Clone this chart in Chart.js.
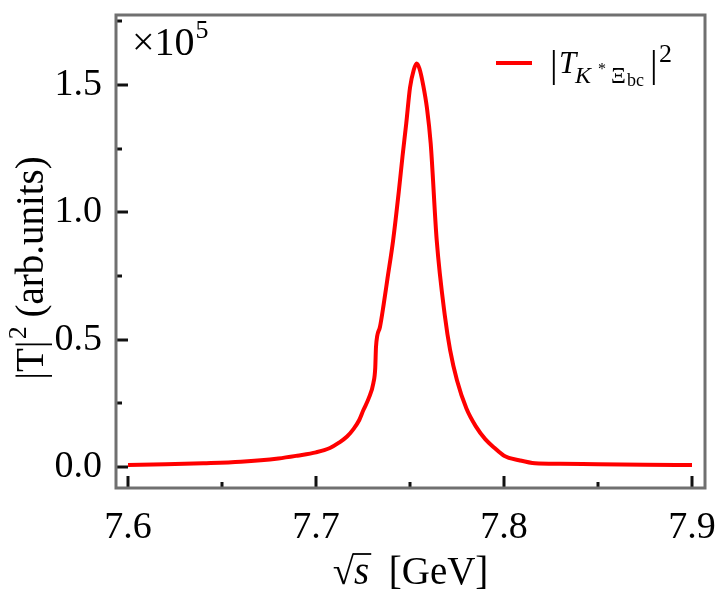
<!DOCTYPE html>
<html>
<head>
<meta charset="utf-8">
<script src="https://cdn.jsdelivr.net/npm/chart.js@4/dist/chart.umd.min.js"></script>
<style>
  html, body { margin: 0; padding: 0; background: #fff; }
  #wrap { width: 718px; height: 598px; }
</style>
</head>
<body>
<div id="wrap"><canvas id="c" width="718" height="598"></canvas></div>
<script>
// sqrt(s) in GeV, |T|^2 in units of 1e5
const sqrtS = [7.600, 7.620, 7.640, 7.660, 7.680, 7.690, 7.700, 7.7074, 7.712, 7.7165, 7.720, 7.723,
  7.7252, 7.728, 7.7305, 7.7315, 7.7319, 7.734, 7.736, 7.738, 7.741, 7.744, 7.746, 7.748, 7.750,
  7.752, 7.7535, 7.755, 7.757, 7.759, 7.761, 7.7642, 7.7686, 7.7713, 7.775, 7.780, 7.785, 7.790,
  7.795, 7.800, 7.808, 7.8165, 7.830, 7.850, 7.875, 7.900];
const tSquared = [0.008, 0.011, 0.015, 0.021, 0.034, 0.045, 0.058, 0.075, 0.095, 0.12, 0.15, 0.185,
  0.224, 0.27, 0.33, 0.39, 0.472, 0.55, 0.64, 0.74, 0.89, 1.08, 1.22, 1.35, 1.49,
  1.56, 1.585, 1.565, 1.50, 1.41, 1.27, 0.89, 0.59, 0.46, 0.34, 0.23, 0.16, 0.11,
  0.075, 0.045, 0.027, 0.015, 0.013, 0.011, 0.009, 0.008];

const xTicks = [7.6, 7.7, 7.8, 7.9];
const yTicks = [0.0, 0.5, 1.0, 1.5];

const SERIF = '"Liberation Serif", "DejaVu Serif", serif';
const FRAME = '#707070';

// рамка, внутренние тики, подписи осей, множитель и легенда
const decor = {
  id: 'decor',
  afterDraw(chart) {
    const { ctx, chartArea: a, scales: { x, y } } = chart;
    ctx.save();

    // ticks (inward)
    ctx.strokeStyle = '#111';
    ctx.lineWidth = 3;
    ctx.lineCap = 'butt';
    const xStep = 0.05, yStep = 0.25;
    for (let i = 0; i <= 6; i++) {
      const v = 7.6 + i * xStep;
      const px = Math.round(x.getPixelForValue(v));
      const len = i % 2 === 0 ? 12 : 6;
      ctx.beginPath(); ctx.moveTo(px, a.bottom); ctx.lineTo(px, a.bottom - len); ctx.stroke();
    }
    for (let i = 0; i <= 7; i++) {
      const v = i * yStep;
      const py = Math.round(y.getPixelForValue(v));
      const len = i % 2 === 0 ? 12 : 6;
      ctx.beginPath(); ctx.moveTo(a.left, py); ctx.lineTo(a.left + len, py); ctx.stroke();
    }

    // frame
    ctx.strokeStyle = FRAME;
    ctx.lineWidth = 3;
    ctx.strokeRect(a.left, a.top, a.right - a.left, a.bottom - a.top);

    ctx.fillStyle = '#000';
    ctx.textBaseline = 'alphabetic';

    // ×10^5
    ctx.textAlign = 'left';
    ctx.font = '40px ' + SERIF;
    ctx.fillText('×10', 132, 55);
    const w10 = ctx.measureText('×10').width;
    ctx.font = '26px ' + SERIF;
    ctx.fillText('5', 132 + w10 + 1, 38);

    // x title: √s [GeV]
    ctx.font = '39px ' + SERIF;
    const rad = '√';
    const radW = ctx.measureText(rad).width;
    ctx.font = 'italic 39px ' + SERIF;
    const sW = ctx.measureText('s').width;
    ctx.font = '39px ' + SERIF;
    const gev = '  [GeV]';
    const gW = ctx.measureText(gev).width;
    let tx = (a.left + a.right) / 2 - (radW + sW + gW) / 2;
    const ty = 584;
    ctx.fillText(rad, tx, ty);
    ctx.font = 'italic 39px ' + SERIF;
    ctx.fillText('s', tx + radW, ty);
    ctx.lineWidth = 1.8;
    ctx.strokeStyle = '#000';
    ctx.beginPath(); ctx.moveTo(tx + radW - 1, ty - 30); ctx.lineTo(tx + radW + sW + 2, ty - 30); ctx.stroke();
    ctx.font = '39px ' + SERIF;
    ctx.fillText(gev, tx + radW + sW, ty);

    // y title: |T|^2 (arb.units)
    ctx.save();
    ctx.translate(43, 268);
    ctx.rotate(-Math.PI / 2);
    ctx.font = '39px ' + SERIF;
    const p1 = '|T|', p3 = ' (arb.units)';
    const w1 = ctx.measureText(p1).width;
    const w3 = ctx.measureText(p3).width;
    ctx.font = '26px ' + SERIF;
    const w2 = ctx.measureText('2').width;
    let sx = -(w1 + w2 + w3) / 2;
    ctx.font = '39px ' + SERIF;
    ctx.fillText(p1, sx, 0);
    ctx.font = '26px ' + SERIF;
    ctx.fillText('2', sx + w1 + 1, -17);
    ctx.font = '39px ' + SERIF;
    ctx.fillText(p3, sx + w1 + w2, 0);
    ctx.restore();

    // legend
    ctx.strokeStyle = '#ff0000';
    ctx.lineWidth = 4;
    ctx.beginPath(); ctx.moveTo(496, 63); ctx.lineTo(532, 63); ctx.stroke();
    ctx.font = '38px ' + SERIF;
    ctx.fillText('|', 550, 77);
    ctx.font = 'italic 31px ' + SERIF;
    ctx.fillText('T', 559, 73);
    ctx.font = 'italic 24px ' + SERIF;
    ctx.fillText('K', 575, 83);
    ctx.font = '16px ' + SERIF;
    ctx.fillText('*', 598, 74);
    ctx.font = '23px ' + SERIF;
    ctx.fillText('Ξ', 611, 83);
    ctx.font = '18px ' + SERIF;
    ctx.fillText('bc', 627, 86);
    ctx.font = '38px ' + SERIF;
    ctx.fillText('|', 650, 77);
    ctx.font = '26px ' + SERIF;
    ctx.fillText('2', 659, 62);

    ctx.restore();
  }
};

new Chart(document.getElementById('c'), {
  type: 'line',
  data: {
    datasets: [{
      label: '|T|^2',
      data: sqrtS.map((v, i) => ({ x: v, y: tSquared[i] })),
      borderColor: '#ff0000',
      borderWidth: 4,
      pointRadius: 0,
      fill: false,
      cubicInterpolationMode: 'monotone',
    }],
  },
  options: {
    responsive: false,
    animation: false,
    devicePixelRatio: 1,
    layout: { padding: { top: 15, right: 13, left: 0, bottom: 0 } },
    plugins: { legend: { display: false }, tooltip: { enabled: false } },
    scales: {
      x: {
        type: 'linear',
        min: 7.5936,
        max: 7.9069,
        afterFit: s => { s.height = 110; s.paddingLeft = 0; s.paddingRight = 0; },
        afterBuildTicks: s => { s.ticks = xTicks.map(v => ({ value: v })); },
        grid: { display: false },
        border: { display: false },
        ticks: {
          color: '#000',
          padding: 9,
          maxRotation: 0,
          font: { family: SERIF, size: 38 },
          callback: v => v.toFixed(1),
        },
      },
      y: {
        type: 'linear',
        min: -0.082,
        max: 1.775,
        afterFit: s => { s.width = 116; s.paddingTop = 0; s.paddingBottom = 0; },
        afterBuildTicks: s => { s.ticks = yTicks.map(v => ({ value: v })); },
        grid: { display: false },
        border: { display: false },
        ticks: {
          color: '#000',
          padding: 6,
          font: { family: SERIF, size: 38 },
          callback: v => v.toFixed(1),
        },
      },
    },
  },
  plugins: [decor],
});
</script>
</body>
</html>
